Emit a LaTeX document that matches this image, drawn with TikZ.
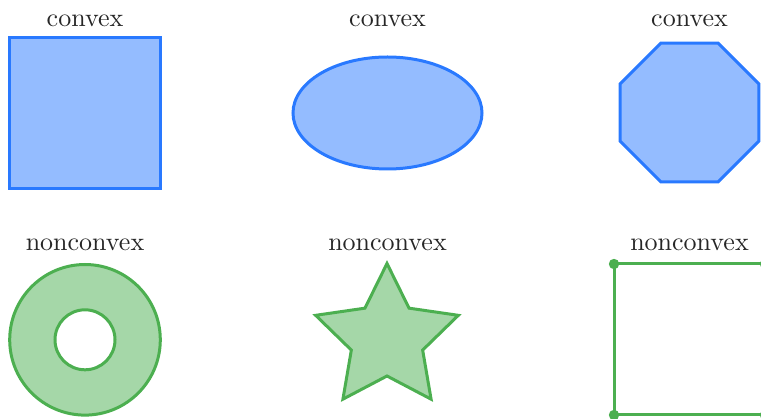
\documentclass[tikz,border=0pt]{standalone}
\usepackage{fontspec}
\setmainfont{lmroman10-regular}[Extension=.otf]
\definecolor{bstroke}{HTML}{2979FF}
\definecolor{gstroke}{HTML}{4CAF50}
\definecolor{txt}{HTML}{262626}
\tikzset{
  lbl/.style={anchor=base, inner sep=0pt, text=txt, font=\fontsize{26}{30}\selectfont},
  cvx/.style={draw=bstroke, fill=bstroke!50, line width=3pt, line join=miter},
  ncvx/.style={draw=gstroke, fill=gstroke!50, line width=3pt},
  dot/.style={fill=gstroke, draw=none}
}
\begin{document}
\begin{tikzpicture}[x=1pt,y=-1pt]
\useasboundingbox (0,0) rectangle (761,419);
\clip (0,0) rectangle (761,419);
% top row labels
\node[lbl] (l1) at (85,27) {convex};
\node[lbl] (l2) at (387.5,27) {convex};
\node[lbl] (l3) at (689.5,27) {convex};
% bottom row labels
\node[lbl] (l4) at (85,251) {nonconvex};
\node[lbl] (l5) at (387.5,251) {nonconvex};
\node[lbl] (l6) at (689.5,251) {nonconvex};
% square
\draw[cvx] (9.6,37.4) rectangle (160.6,188.4);
% ellipse
\draw[cvx] (387.5,113) ellipse [x radius=94.5, y radius=56];
% octagon
\begin{scope}[shift={(689.5,112.5)}]
\draw[cvx] (22.5:75) -- (67.5:75) -- (112.5:75) -- (157.5:75) -- (202.5:75) -- (247.5:75) -- (292.5:75) -- (337.5:75) -- cycle;
\end{scope}
% donut
\draw[ncvx, even odd rule] (85,339.8) circle [radius=75.3] (85,339.8) circle [radius=30];
% star
\begin{scope}[shift={(387,338.5)}]
\draw[ncvx, line join=miter] (-90:75) -- (-54:37.5) -- (-18:75) -- (18:37.5) -- (54:75) -- (90:37.5) -- (126:75) -- (162:37.5) -- (198:75) -- (234:37.5) -- cycle;
\end{scope}
% open square (edges only)
\coordinate (p1) at (614,264);
\coordinate (p2) at (765,264);
\coordinate (p3) at (765,415);
\coordinate (p4) at (614,415);
\draw[gstroke, line width=3pt] (p1) -- (p2) -- (p3) -- (p4) -- cycle;
\foreach \p in {p1,p2,p3,p4} \fill[dot] (\p) circle [radius=5.2];
\end{tikzpicture}
\end{document}
